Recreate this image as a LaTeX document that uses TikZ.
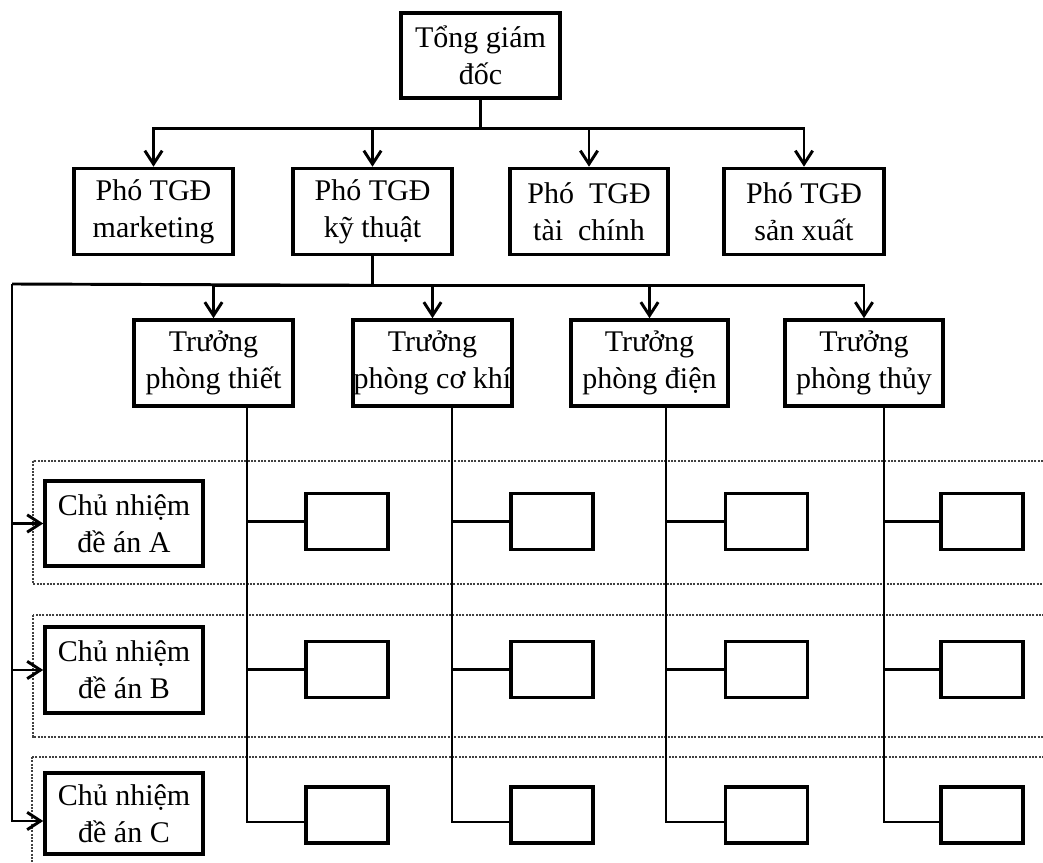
\documentclass[tikz,border=0pt]{standalone}
\usepackage{fontspec}
\setmainfont{Liberation Serif}
\usetikzlibrary{arrows.meta,calc}

\tikzset{
  base/.style={draw, line width=2.7pt, align=center, inner sep=0pt,
    font=\fontsize{22.5}{28}\selectfont},
  bigbox/.style={base, minimum width=158*0.75pt, minimum height=86*0.75pt},
  smallbox/.style={draw, line width=2.7pt, minimum width=82*0.75pt, minimum height=56*0.75pt},
  link/.style={line width=2.2pt},
  arr/.style={link, -{Straight Barb[length=10pt,width=13pt,line width=2.2pt]}},
  band/.style={draw=black!75, line width=1.4pt, dash pattern=on 1.6pt off 0.9pt},
}

\begin{document}
\begin{tikzpicture}[x=0.75pt, y=-0.75pt]
  \clip (0,0) rectangle (1043,863);
  \fill[white] (0,0) rectangle (1043,863);

  % project bands
  \draw[band] (33,461) rectangle (1070,584);
  \draw[band] (33,615) rectangle (1070,737);
  \draw[band] (32,757) rectangle (1070,900);

  % general director
  \node[bigbox, minimum width=159*0.75pt, minimum height=85*0.75pt] (gd) at (480.5,55.5) {Tổng giám\\đốc};

  % deputy directors
  \node[bigbox, minimum width=159*0.75pt] (pm) at (153.5,211.5) {Phó TGĐ\\marketing};
  \node[bigbox, minimum width=159*0.75pt] (pk) at (372.5,211.5) {Phó TGĐ\\kỹ thuật};
  \node[bigbox, minimum width=158*0.75pt] (pt) at (589,211.5) {Phó\ \ TGĐ\\tài\ \ chính};
  \node[bigbox, minimum width=160*0.75pt] (ps) at (804,211.5) {Phó TGĐ\\sản xuất};

  % department heads
  \node[bigbox, minimum width=159*0.75pt] (t1) at (213.5,363) {Trưởng\\phòng thiết};
  \node[bigbox, minimum width=159*0.75pt] (t2) at (432.5,363) {Trưởng\\phòng cơ khí};
  \node[bigbox, minimum width=157*0.75pt] (t3) at (649.5,363) {Trưởng\\phòng điện};
  \node[bigbox, minimum width=158*0.75pt] (t4) at (864,363) {Trưởng\\phòng thủy};

  % project managers
  \node[bigbox, minimum height=85*0.75pt] (ca) at (124,523.5) {Chủ nhiệm\\đề án A};
  \node[bigbox, minimum height=86*0.75pt] (cb) at (124,670) {Chủ nhiệm\\đề án B};
  \node[bigbox, minimum height=81*0.75pt] (cc) at (124,813.5) {Chủ nhiệm\\đề án C};

  % staff boxes
  \foreach \c/\x in {1/347,2/552,3/766.5,4/982}{
    \node[smallbox] (sa\c) at (\x,521.5) {};
    \node[smallbox] (sb\c) at (\x,669.5) {};
    \node[smallbox] (sc\c) at (\x,815) {};
  }

  % director to deputies
  \foreach \n in {pm,pk,pt,ps}
    \draw[arr] (gd.south) -- ++(0,29) -| (\n.north);

  % technical deputy to department heads
  \foreach \n in {t1,t2,t3,t4}
    \draw[arr] (pk.south) -- ++(0,29) -| (\n.north);

  % technical deputy to project managers
  \coordinate (lb) at (12,284);
  \draw[link] (pk.south) -- ++(0,29) -- (lb);
  \draw[arr] (lb) |- (ca.west);
  \draw[arr] (lb) |- (cb.west);
  \draw[arr] (lb) |- ($(cc.west)+(0,7.5)$);

  % department heads to staff
  \foreach \t/\c/\dx in {t1/1/33.5,t2/2/19.5,t3/3/16.5,t4/4/20}{
    \coordinate (v\c) at ($(\t.south)+(\dx,0)$);
    \draw[link] (v\c) |- (sa\c.west);
    \draw[link] (v\c) |- (sb\c.west);
    \draw[link] (v\c) |- ($(sc\c.west)+(0,7)$);
  }
\end{tikzpicture}
\end{document}
